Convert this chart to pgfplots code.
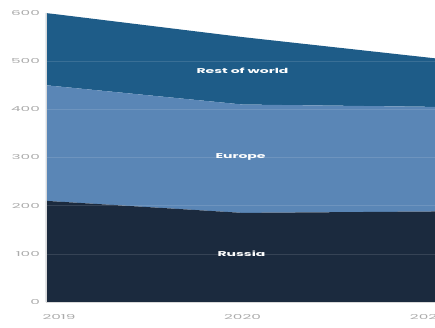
\documentclass[border=0pt]{standalone}
\usepackage{graphicx}
\usepackage{pgfplots}
\pgfplotsset{compat=1.18}
\usepackage{fontspec}
\setmainfont{Poppins}
\definecolor{rus}{HTML}{1B2A3E}
\definecolor{eur}{HTML}{5A86B6}
\definecolor{row}{HTML}{1E5C88}
\definecolor{tick}{HTML}{ABABAB}
\newcommand{\wide}[1]{\scalebox{2.25}[1]{#1}}
\newcommand{\widel}[1]{\scalebox{2.0}[1]{#1}}
\begin{document}
\begin{tikzpicture}
\begin{axis}[
  scale only axis,
  width=393pt, height=289pt,
  xmin=2019, xmax=2021, ymin=0, ymax=600,
  stack plots=y,
  area style,
  axis on top,
  clip=false,
  axis line style={draw=gray!30, line width=0.8pt},
  axis x line*=bottom, axis y line*=left,
  xtick={2019,2020,2021},
  xticklabels={{\hspace*{26pt}\wide{2019}},{\wide{2020}},{\wide{2021}\hspace*{26pt}}},
  ytick={0,100,...,600},
  yticklabel={\wide{\pgfmathprintnumber{\tick}}},
  ymajorgrids,
  grid style={white, opacity=0.12, line width=0.6pt},
  major tick length=0pt,
  tick label style={font=\fontsize{6.8}{8}\selectfont, text=tick},
  /pgf/number format/assume math mode=true,
  yticklabel style={anchor=east, xshift=-2.5pt},
  xticklabel style={anchor=center, yshift=-15pt},
  every axis plot/.append style={draw=none},
]
\addplot[fill=rus] coordinates {(2019,210) (2020,185) (2021,188)} \closedcycle;
\addplot[fill=eur] coordinates {(2019,240) (2020,225) (2021,217)} \closedcycle;
\addplot[fill=row] coordinates {(2019,150) (2020,140) (2021,100)} \closedcycle;
\coordinate (lrow) at (axis cs:2020.0,480);
\coordinate (leur) at (axis cs:2019.99,301);
\coordinate (lrus) at (axis cs:2019.995,101);
\end{axis}
\node[text=white, font=\fontsize{7}{8}\selectfont\bfseries] at (lrow) {\widel{Rest of world}};
\node[text=white, font=\fontsize{7}{8}\selectfont\bfseries] at (leur) {\widel{Europe}};
\node[text=white, font=\fontsize{7}{8}\selectfont\bfseries] at (lrus) {\widel{Russia}};
\pgfresetboundingbox
\path[use as bounding box] (-46pt,-26pt) rectangle (389pt,302pt);
\end{tikzpicture}
\end{document}
